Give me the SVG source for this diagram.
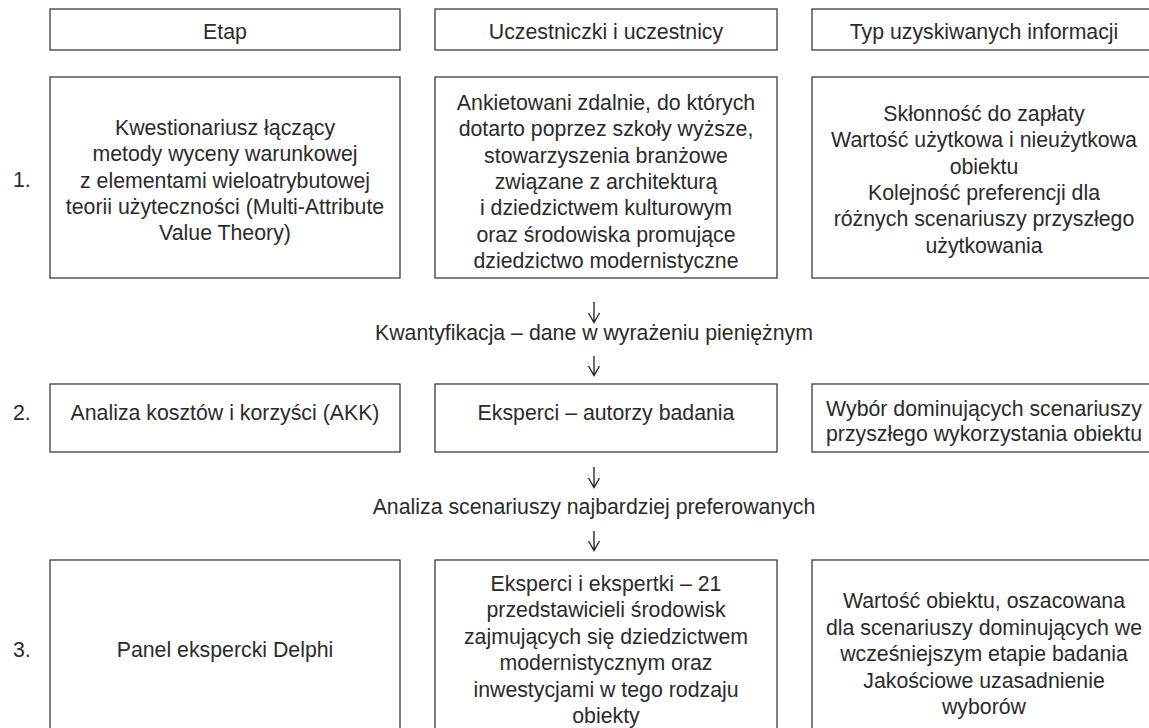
<svg xmlns="http://www.w3.org/2000/svg" width="1149" height="728" viewBox="0 0 1149 728">
<style>
  .box { fill: #ffffff; stroke: #3c3c3c; stroke-width: 1.3; }
  .t { font-family: "Liberation Sans", Arial, sans-serif; font-size: 21.3px; fill: #2b2b2b; text-anchor: middle; }
  .n { font-family: "Liberation Sans", Arial, sans-serif; font-size: 21.3px; fill: #2b2b2b; text-anchor: start; }
  .arr { fill: none; stroke: #2b2b2b; stroke-width: 1.4; }
</style>
<rect width="1149" height="728" fill="#ffffff"/>

<g id="header-etap">
  <rect class="box" x="50" y="9" width="350" height="41"/>
  <text class="t" x="225" y="39">Etap</text>
</g>
<g id="header-uczestnicy">
  <rect class="box" x="435" y="9" width="342" height="41"/>
  <text class="t" x="606" y="39">Uczestniczki i uczestnicy</text>
</g>
<g id="header-typ">
  <rect class="box" x="812" y="9" width="345" height="41"/>
  <text class="t" x="984" y="39">Typ uzyskiwanych informacji</text>
</g>

<g id="label-1"><text class="n" x="13" y="187">1.</text></g>
<g id="label-2"><text class="n" x="13" y="420">2.</text></g>
<g id="label-3"><text class="n" x="13" y="657">3.</text></g>

<g id="r1-etap">
  <rect class="box" x="50" y="77" width="350" height="201"/>
  <text class="t" x="225" y="135">Kwestionariusz łączący</text>
  <text class="t" x="225" y="161.3">metody wyceny warunkowej</text>
  <text class="t" x="225" y="187.6">z elementami wieloatrybutowej</text>
  <text class="t" x="225" y="213.9">teorii użyteczności (Multi-Attribute</text>
  <text class="t" x="225" y="240.2">Value Theory)</text>
</g>
<g id="r1-uczestnicy">
  <rect class="box" x="435" y="77" width="342" height="201"/>
  <text class="t" x="606" y="110">Ankietowani zdalnie, do których</text>
  <text class="t" x="606" y="136.3">dotarto poprzez szkoły wyższe,</text>
  <text class="t" x="606" y="162.6">stowarzyszenia branżowe</text>
  <text class="t" x="606" y="188.9">związane z architekturą</text>
  <text class="t" x="606" y="215.2">i dziedzictwem kulturowym</text>
  <text class="t" x="606" y="241.5">oraz środowiska promujące</text>
  <text class="t" x="606" y="267.8">dziedzictwo modernistyczne</text>
</g>
<g id="r1-typ">
  <rect class="box" x="812" y="77" width="345" height="201"/>
  <text class="t" x="984" y="121">Skłonność do zapłaty</text>
  <text class="t" x="984" y="147.3">Wartość użytkowa i nieużytkowa</text>
  <text class="t" x="984" y="173.6">obiektu</text>
  <text class="t" x="984" y="199.9">Kolejność preferencji dla</text>
  <text class="t" x="984" y="226.2">różnych scenariuszy przyszłego</text>
  <text class="t" x="984" y="252.5">użytkowania</text>
</g>

<g id="mid-1">
  <text class="t" x="594" y="340">Kwantyfikacja – dane w wyrażeniu pieniężnym</text>
</g>

<g id="r2-etap">
  <rect class="box" x="50" y="384" width="350" height="68"/>
  <text class="t" x="225" y="420">Analiza kosztów i korzyści (AKK)</text>
</g>
<g id="r2-uczestnicy">
  <rect class="box" x="435" y="384" width="342" height="68"/>
  <text class="t" x="606" y="420">Eksperci – autorzy badania</text>
</g>
<g id="r2-typ">
  <rect class="box" x="812" y="384" width="345" height="68"/>
  <text class="t" x="984" y="416">Wybór dominujących scenariuszy</text>
  <text class="t" x="984" y="441">przyszłego wykorzystania obiektu</text>
</g>

<g id="mid-2">
  <text class="t" x="594" y="514">Analiza scenariuszy najbardziej preferowanych</text>
</g>

<g id="r3-etap">
  <rect class="box" x="50" y="560" width="350" height="180"/>
  <text class="t" x="225" y="657">Panel ekspercki Delphi</text>
</g>
<g id="r3-uczestnicy">
  <rect class="box" x="435" y="560" width="342" height="180"/>
  <text class="t" x="606" y="590.5">Eksperci i ekspertki – 21</text>
  <text class="t" x="606" y="617">przedstawicieli środowisk</text>
  <text class="t" x="606" y="643.5">zajmujących się dziedzictwem</text>
  <text class="t" x="606" y="670">modernistycznym oraz</text>
  <text class="t" x="606" y="696.5">inwestycjami w tego rodzaju</text>
  <text class="t" x="606" y="723">obiekty</text>
</g>
<g id="r3-typ">
  <rect class="box" x="812" y="560" width="345" height="180"/>
  <text class="t" x="984" y="608">Wartość obiektu, oszacowana</text>
  <text class="t" x="984" y="634.6">dla scenariuszy dominujących we</text>
  <text class="t" x="984" y="661.2">wcześniejszym etapie badania</text>
  <text class="t" x="984" y="687.8">Jakościowe uzasadnienie</text>
  <text class="t" x="984" y="714.4">wyborów</text>
</g>

<g id="connectors">
  <path class="arr" d="M594 302 V322.5 M588.5 313 L594 322.5 L599.5 313"/>
  <path class="arr" d="M594 356 V375.5 M588.5 366 L594 375.5 L599.5 366"/>
  <path class="arr" d="M594 467 V487.5 M588.5 478 L594 487.5 L599.5 478"/>
  <path class="arr" d="M594 531 V550.5 M588.5 541 L594 550.5 L599.5 541"/>
</g>
</svg>
